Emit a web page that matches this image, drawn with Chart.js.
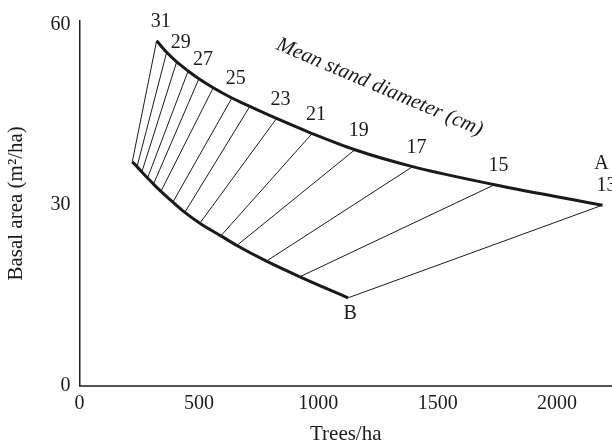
<!DOCTYPE html>
<html>
<head>
<meta charset="utf-8">
<script src="https://cdn.jsdelivr.net/npm/chart.js@4.4.0/dist/chart.umd.min.js"></script>
<style>
  html, body { margin: 0; padding: 0; background: #fff; }
  #wrap { width: 612px; height: 445px; }
</style>
</head>
<body>
<div id="wrap"><canvas id="chart" width="612" height="445"></canvas></div>
<script>
// mean stand diameter (cm) for each thinning line
const diameters = [31, 30, 29, 28, 27, 26, 25, 24, 23, 21, 19, 17, 15, 13];

// upper curve (A)
const upperTrees = [323, 365, 407, 455, 500, 560, 638, 713, 825, 974, 1153, 1395, 1738, 2190];
const upperBasal = [57.3, 55.4, 53.8, 52.3, 51.0, 49.5, 47.8, 46.4, 44.4, 41.9, 39.2, 36.4, 33.4, 30.0];

// lower curve (B)
const lowerTrees = [221, 241, 261, 285, 310, 341, 391, 441, 504, 592, 659, 783, 923, 1125];
const lowerBasal = [37.2, 36.4, 35.5, 34.5, 33.5, 32.3, 30.5, 28.8, 27.0, 24.9, 23.3, 20.7, 18.1, 14.6];

const xTicks = [0, 500, 1000, 1500, 2000];
const yTicks = [0, 30, 60];

const serif = '"Liberation Serif", "DejaVu Serif", serif';
const ink = '#1a1a1a';

const upperPoints = upperTrees.map((t, i) => ({x: t, y: upperBasal[i]}));
const lowerPoints = lowerTrees.map((t, i) => ({x: t, y: lowerBasal[i]}));

// one dataset for all the thin lines, broken by null points
const connectors = [];
diameters.forEach((d, i) => {
  connectors.push(upperPoints[i]);
  connectors.push(lowerPoints[i]);
  connectors.push({x: lowerTrees[i], y: null});
});

const labelsPlugin = {
  id: 'curveLabels',
  afterDatasetsDraw(chart) {
    const ctx = chart.ctx;
    const xs = chart.scales.x;
    const ys = chart.scales.y;
    ctx.save();
    ctx.fillStyle = ink;
    ctx.font = '20px ' + serif;
    ctx.textAlign = 'center';
    ctx.textBaseline = 'middle';

    diameters.forEach((d, i) => {
      if (d % 2 === 0) return;
      const px = xs.getPixelForValue(upperTrees[i]);
      const py = ys.getPixelForValue(upperBasal[i]);
      ctx.fillText(String(d), px + 4, py - 19);
    });

    const last = diameters.length - 1;
    const ax = xs.getPixelForValue(upperTrees[last]);
    const ay = ys.getPixelForValue(upperBasal[last]);
    ctx.fillText('A', ax - 1, ay - 41);

    const bx = xs.getPixelForValue(lowerTrees[last]);
    const by = ys.getPixelForValue(lowerBasal[last]);
    ctx.fillText('B', bx + 2, by + 16);

    // curve caption, tilted along the upper line
    const cx = xs.getPixelForValue(1257);
    const cy = ys.getPixelForValue(49.6);
    ctx.translate(cx, cy);
    ctx.rotate(23 * Math.PI / 180);
    ctx.font = 'italic 21px ' + serif;
    ctx.fillText('Mean stand diameter (cm)', 0, 0);
    ctx.restore();
  }
};

const chart = new Chart(document.getElementById('chart'), {
  type: 'line',
  data: {
    datasets: [
      {
        data: upperPoints,
        borderColor: ink,
        borderWidth: 3,
        pointRadius: 0,
        cubicInterpolationMode: 'monotone',
        fill: false
      },
      {
        data: lowerPoints,
        borderColor: ink,
        borderWidth: 3,
        pointRadius: 0,
        cubicInterpolationMode: 'monotone',
        fill: false
      },
      {
        data: connectors,
        borderColor: ink,
        borderWidth: 1,
        pointRadius: 0,
        spanGaps: false,
        tension: 0,
        fill: false
      }
    ]
  },
  options: {
    responsive: false,
    animation: false,
    devicePixelRatio: 1,
    layout: { padding: { top: 18, right: 0, bottom: 0, left: 0 } },
    plugins: {
      legend: { display: false },
      tooltip: { enabled: false }
    },
    scales: {
      x: {
        type: 'linear',
        min: 0,
        max: 2230,
        afterBuildTicks: (scale) => { scale.ticks = xTicks.map(v => ({value: v})); },
        afterFit: (scale) => { scale.height = 59.3; },
        grid: { color: 'rgba(0,0,0,0)', drawTicks: false },
        border: { display: true, color: '#555', width: 2 },
        ticks: {
          color: ink,
          padding: 6,
          maxRotation: 0,
          font: { family: serif, size: 20 },
          callback: (v) => String(v)
        },
        title: {
          display: true,
          text: 'Trees/ha',
          color: ink,
          padding: 0,
          font: { family: serif, size: 21, lineHeight: 1 }
        }
      },
      y: {
        type: 'linear',
        min: 0,
        max: 60.6,
        afterBuildTicks: (scale) => { scale.ticks = yTicks.map(v => ({value: v})); },
        afterFit: (scale) => { scale.width = 79.5; },
        grid: { color: 'rgba(0,0,0,0)', drawTicks: false },
        border: { display: true, color: '#222', width: 1.5 },
        ticks: {
          color: ink,
          padding: 9,
          font: { family: serif, size: 20 },
          callback: (v) => String(v)
        },
        title: {
          display: true,
          text: 'Basal area (m²/ha)',
          color: ink,
          padding: { top: 6, bottom: 0 },
          font: { family: serif, size: 21, lineHeight: 1 }
        }
      }
    }
  },
  plugins: [labelsPlugin]
});
</script>
</body>
</html>
